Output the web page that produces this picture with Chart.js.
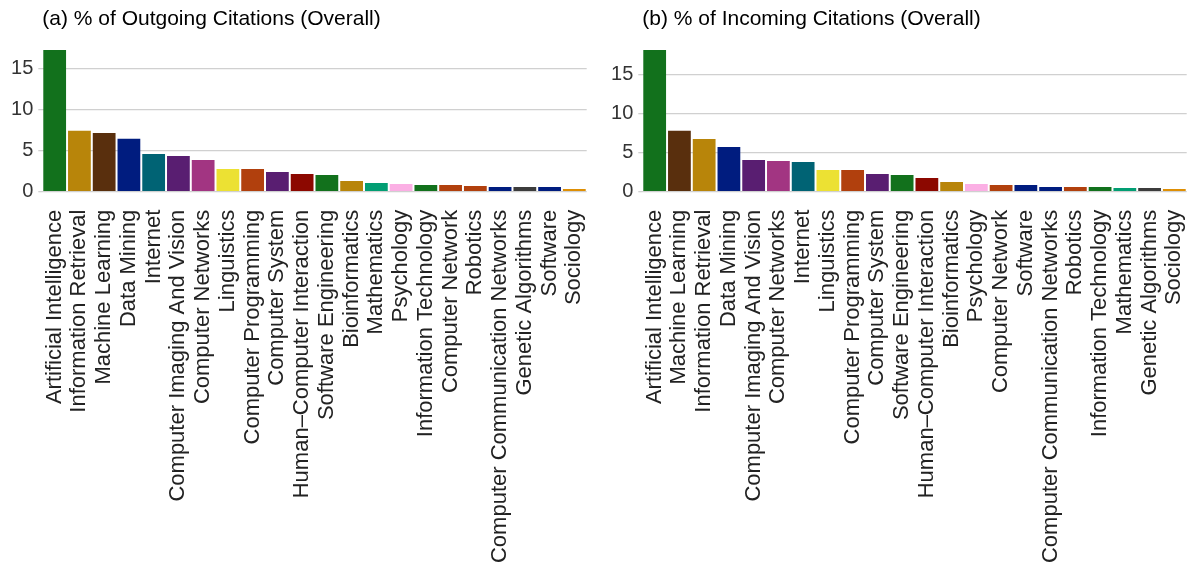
<!DOCTYPE html>
<html><head><meta charset="utf-8">
<script src="https://cdn.jsdelivr.net/npm/chart.js@4.4.1/dist/chart.umd.min.js"></script>
<style>
html,body{margin:0;padding:0;background:#fff;width:1192px;height:567px;overflow:hidden}
.box{position:absolute;top:0;width:592px;height:567px}
canvas{display:block}
</style></head><body>
<div class="box" style="left:0"><canvas id="c1" width="592" height="567"></canvas></div>
<div class="box" style="left:600px"><canvas id="c2" width="592" height="567"></canvas></div>
<script>
// ---- data ----
const outgoingTitle = "(a) % of Outgoing Citations (Overall)";
const outgoingCategories = ["Artificial Intelligence","Information Retrieval","Machine Learning","Data Mining","Internet","Computer Imaging And Vision","Computer Networks","Linguistics","Computer Programming","Computer System","Human\u2013Computer Interaction","Software Engineering","Bioinformatics","Mathematics","Psychology","Information Technology","Computer Network","Robotics","Computer Communication Networks","Genetic Algorithms","Software","Sociology"];
const outgoingValues = [17.22,7.41,7.13,6.44,4.58,4.34,3.85,2.75,2.75,2.39,2.15,2.03,1.30,1.06,0.94,0.81,0.81,0.69,0.57,0.57,0.57,0.33];

const incomingTitle = "(b) % of Incoming Citations (Overall)";
const incomingCategories = ["Artificial Intelligence","Machine Learning","Information Retrieval","Data Mining","Computer Imaging And Vision","Computer Networks","Internet","Linguistics","Computer Programming","Computer System","Software Engineering","Human\u2013Computer Interaction","Bioinformatics","Psychology","Computer Network","Software","Computer Communication Networks","Robotics","Information Technology","Mathematics","Genetic Algorithms","Sociology"];
const incomingValues = [18.17,7.82,6.76,5.73,4.06,3.94,3.81,2.78,2.78,2.27,2.14,1.76,1.24,0.99,0.86,0.86,0.60,0.60,0.60,0.47,0.47,0.35];

const yTickValues = [0,5,10,15];

// ---- styles ----
const categoryColors = {
  "Artificial Intelligence":"#12711c","Information Retrieval":"#b8850a","Machine Learning":"#592f0d",
  "Data Mining":"#001c7f","Internet":"#006374","Computer Imaging And Vision":"#591e71",
  "Computer Networks":"#a23582","Linguistics":"#ece133","Computer Programming":"#b1400d",
  "Computer System":"#591e71","Human\u2013Computer Interaction":"#8c0800","Software Engineering":"#12711c",
  "Bioinformatics":"#b8850a","Mathematics":"#029e73","Psychology":"#fbafe4",
  "Information Technology":"#12711c","Computer Network":"#b1400d","Robotics":"#b1400d",
  "Computer Communication Networks":"#001c7f","Genetic Algorithms":"#3c3c3c","Software":"#001c7f",
  "Sociology":"#de8f05"
};
const FONT = "'Liberation Sans', Arial, Helvetica, sans-serif";
const H = 567, AXIS_Y0 = 191.7, PLOT_LEFT = 42.3;

function makeChart(id, title, cats, vals) {
  new Chart(document.getElementById(id), {
    type: 'bar',
    data: {
      labels: cats,
      datasets: [{
        data: vals,
        backgroundColor: cats.map(c => categoryColors[c]),
        borderWidth: 0,
        barPercentage: 0.92,
        categoryPercentage: 1.0
      }]
    },
    options: {
      responsive: false,
      animation: false,
      devicePixelRatio: 1,
      layout: { padding: { left: 0, right: 5.3, top: 0, bottom: 0 } },
      plugins: {
        legend: { display: false },
        tooltip: { enabled: false },
        title: {
          display: true, text: title, align: 'start', fullSize: false,
          color: '#000', font: { family: FONT, size: 21, weight: 'normal', lineHeight: 1.2 },
          padding: { top: 6.6, bottom: 18.2 }
        }
      },
      scales: {
        x: {
          offset: true,
          grid: { display: false, drawTicks: false },
          border: { display: false },
          ticks: {
            autoSkip: false, maxRotation: 90, minRotation: 90, padding: 18,
            color: '#222', font: { family: FONT, size: 22 }
          },
          afterFit: s => { s.height = H - AXIS_Y0; s.paddingLeft = 0; s.paddingRight = 0; }
        },
        y: {
          min: 0, max: Math.max(...vals),
          border: { display: false },
          grid: { color: '#d0d0d0', lineWidth: 1.3, tickLength: 4, drawTicks: true },
          ticks: { padding: 5, color: '#333', font: { family: FONT, size: 20 } },
          afterBuildTicks: s => { s.ticks = yTickValues.map(v => ({ value: v })); },
          afterFit: s => { s.width = PLOT_LEFT; s.paddingTop = 0; s.paddingBottom = 0; }
        }
      }
    }
  });
}
makeChart('c1', outgoingTitle, outgoingCategories, outgoingValues);
makeChart('c2', incomingTitle, incomingCategories, incomingValues);
</script>
</body></html>
